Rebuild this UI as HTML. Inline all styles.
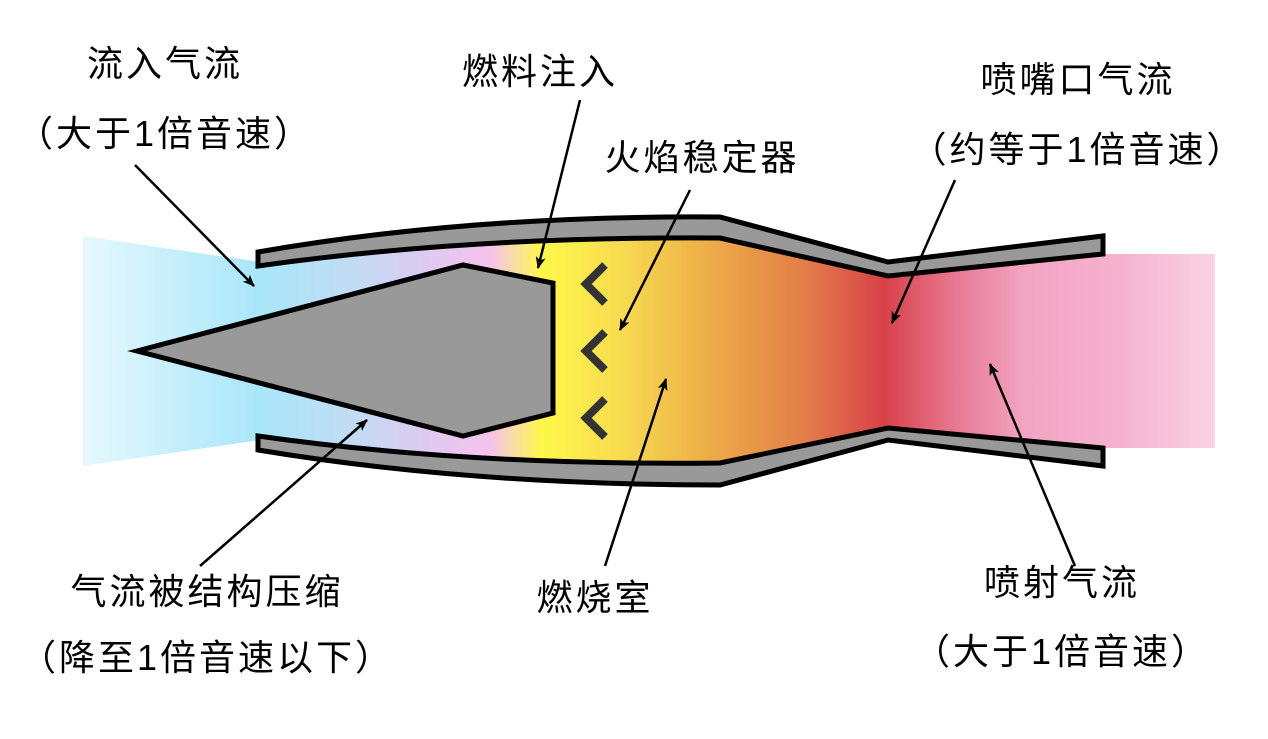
<!DOCTYPE html>
<html><head><meta charset="utf-8"><style>
html,body{margin:0;padding:0;background:#fff;}
svg{display:block;}
text{font-family:"Liberation Sans","Noto Sans CJK SC",sans-serif;font-size:36px;fill:#000;text-anchor:middle;letter-spacing:3px;}
</style></head><body>
<svg width="1268" height="739" viewBox="0 0 1268 739" xmlns="http://www.w3.org/2000/svg">
<defs>
<linearGradient id="g" gradientUnits="userSpaceOnUse" x1="83" y1="0" x2="1215" y2="0">
<stop offset="0" stop-color="#e6f8fd"/>
<stop offset="0.155" stop-color="#a9e6f9"/>
<stop offset="0.24" stop-color="#c2dcf4"/>
<stop offset="0.3" stop-color="#dccbf0"/>
<stop offset="0.36" stop-color="#f6c2ec"/>
<stop offset="0.385" stop-color="#f9e294"/>
<stop offset="0.405" stop-color="#fdf84a"/>
<stop offset="0.48" stop-color="#f6d950"/>
<stop offset="0.55" stop-color="#eeae48"/>
<stop offset="0.64" stop-color="#e27c48"/>
<stop offset="0.708" stop-color="#d8414a"/>
<stop offset="0.77" stop-color="#e77890"/>
<stop offset="0.83" stop-color="#f2a3c2"/>
<stop offset="0.92" stop-color="#f5b3cf"/>
<stop offset="1" stop-color="#f9d2e3"/>
</linearGradient>
<marker id="a" viewBox="0 0 12 10" refX="11" refY="5" markerWidth="12" markerHeight="10" markerUnits="userSpaceOnUse" orient="auto">
<path d="M0,0 L12,5 L0,10 L3,5 Z" fill="#000"/>
</marker>
</defs>
<polygon points="83,236 260,262 260,440 83,466" fill="url(#g)"/>
<path d="M258,266 Q470,235 720,238 L888,276 L1103,252 L1103,448 L888,428 L720,463 Q470,466 258,438 Z" fill="url(#g)"/>
<rect x="1100" y="254" width="115" height="194" fill="url(#g)"/>
<path d="M258,252 Q470,215 720,217 L888,262 L1103,236 L1103,254 L888,276 L720,238 Q470,236 258,266 Z" fill="#999" stroke="#000" stroke-width="5" stroke-linejoin="miter"/>
<path d="M258,450 Q470,485 720,485 L888,440 L1103,466 L1103,448 L888,428 L720,463 Q470,466 258,436 Z" fill="#999" stroke="#000" stroke-width="5" stroke-linejoin="miter"/>
<polygon points="137,351 463,265 553,283 553,413 463,436" fill="#999" stroke="#000" stroke-width="5"/>
<g fill="none" stroke="#333" stroke-width="8">
<polyline points="605,265 586,284 605,303"/>
<polyline points="605,332 586,351 605,370"/>
<polyline points="605,399 586,418 605,437"/>
</g>
<g stroke="#000" stroke-width="2.5" marker-end="url(#a)">
<line x1="135" y1="165" x2="254" y2="286"/>
<line x1="580" y1="100" x2="538" y2="268"/>
<line x1="690" y1="190" x2="620" y2="330"/>
<line x1="955" y1="180" x2="892" y2="323"/>
<line x1="200" y1="566" x2="367" y2="420"/>
<line x1="605" y1="566" x2="666" y2="379"/>
<line x1="1075" y1="566" x2="990" y2="364"/>
</g>
<text x="165" y="76">流入气流</text>
<text x="165" y="146">（大于1倍音速）</text>
<text x="540" y="84">燃料注入</text>
<text x="702" y="170">火焰稳定器</text>
<text x="1078" y="92">喷嘴口气流</text>
<text x="1078" y="162">（约等于1倍音速）</text>
<text x="207" y="604">气流被结构压缩</text>
<text x="207" y="670">（降至1倍音速以下）</text>
<text x="595" y="610">燃烧室</text>
<text x="1062" y="595">喷射气流</text>
<text x="1062" y="664">（大于1倍音速）</text>
</svg>
</body></html>
